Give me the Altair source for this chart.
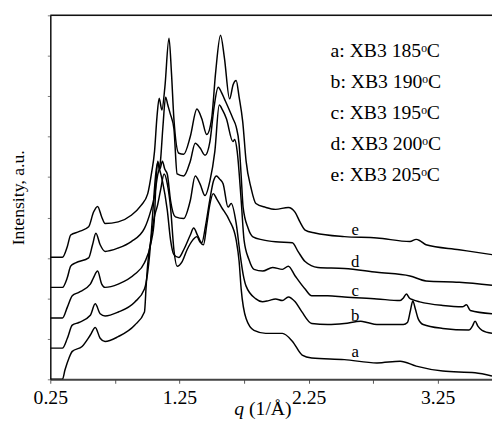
import altair as alt
import pandas as pd

# ---------------- data ----------------
# scattering vector q (1/Å) and stacked intensity (a.u.) for each curve
a_q = [0.25, 0.344, 0.364, 0.395, 0.42, 0.496, 0.56, 0.598, 0.636, 0.674,
       0.776, 0.903, 0.979, 0.993, 1.004, 1.029, 1.055, 1.080, 1.103, 1.131,
       1.156, 1.181, 1.207, 1.232, 1.271, 1.309, 1.354, 1.385, 1.408, 1.436,
       1.461, 1.484, 1.512, 1.537, 1.575, 1.636, 1.689, 1.712, 1.728, 1.766,
       1.827, 1.918, 2.047, 2.124, 2.200, 2.274, 2.527, 2.779, 2.959, 3.083,
       3.289, 3.539, 3.670]
a_v = [0, 0, 0.236, 0.528, 0.691, 0.813, 1.095, 1.282, 1.015, 0.934,
       1.056, 1.338, 1.664, 2.353, 2.839, 3.448, 4.007, 4.299, 4.664, 5.078,
       4.835, 4.251, 3.204, 2.798, 2.912, 3.204, 3.448, 3.528, 3.399, 3.326,
       3.813, 4.299, 4.591, 4.470, 4.258, 3.934, 3.448, 2.912, 2.231, 1.501,
       1.209, 1.136, 1.136, 0.942, 0.601, 0.528, 0.487, 0.406, 0.448, 0.326,
       0.204, 0.163, 0.083]

b_q = [0.25, 0.344, 0.382, 0.42, 0.471, 0.56, 0.598, 0.636, 0.674, 0.776,
       0.903, 0.979, 1.004, 1.019, 1.042, 1.065, 1.080, 1.095, 1.118, 1.156,
       1.181, 1.207, 1.245, 1.283, 1.334, 1.360, 1.392, 1.423, 1.453, 1.484,
       1.514, 1.537, 1.560, 1.588, 1.626, 1.651, 1.689, 1.720, 1.743, 1.766,
       1.842, 1.893, 1.941, 1.994, 2.047, 2.093, 2.146, 2.197, 2.274, 2.398,
       2.527, 2.654, 2.702, 2.779, 2.984, 3.015, 3.038, 3.057, 3.076, 3.098,
       3.137, 3.289, 3.492, 3.517, 3.539, 3.562, 3.593, 3.670]
b_v = [0.771, 0.771, 1.015, 1.338, 1.404, 1.582, 1.866, 1.623, 1.567, 1.664,
       1.908, 2.231, 2.645, 3.083, 4.056, 5.029, 5.346, 5.200, 4.908, 4.178,
       3.448, 3.083, 3.010, 3.204, 3.569, 3.740, 3.545, 3.375, 3.813, 4.421,
       4.908, 5.029, 4.956, 4.835, 4.258, 4.348, 3.861, 3.083, 2.596, 2.304,
       1.988, 1.915, 1.946, 1.988, 1.946, 2.036, 1.915, 1.672, 1.380, 1.355,
       1.380, 1.436, 1.404, 1.355, 1.355, 1.404, 1.696, 1.939, 1.745, 1.501,
       1.355, 1.258, 1.217, 1.307, 1.436, 1.307, 1.209, 1.136]

c_q = [0.25, 0.344, 0.382, 0.42, 0.471, 0.56, 0.585, 0.616, 0.648, 0.674,
       0.776, 0.903, 0.979, 1.029, 1.055, 1.069, 1.082, 1.098, 1.118, 1.136,
       1.156, 1.181, 1.219, 1.283, 1.334, 1.372, 1.410, 1.448, 1.486, 1.524,
       1.558, 1.583, 1.613, 1.664, 1.678, 1.697, 1.728, 1.750, 1.788, 1.827,
       1.895, 1.971, 2.047, 2.093, 2.146, 2.223, 2.274, 2.398, 2.527, 2.779,
       2.959, 2.984, 3.007, 3.030, 3.060, 3.111, 3.289, 3.441, 3.472, 3.502,
       3.670]
c_v = [1.518, 1.518, 1.786, 2.068, 2.151, 2.353, 2.516, 2.676, 2.353, 2.273,
       2.353, 2.596, 2.881, 3.367, 3.934, 4.908, 5.394, 5.200, 5.394, 5.200,
       5.071, 4.421, 4.015, 3.976, 4.421, 5.029, 4.827, 4.543, 4.908, 5.637,
       6.781, 6.660, 6.448, 5.880, 5.929, 5.637, 4.421, 3.448, 2.961, 2.718,
       2.676, 2.766, 2.718, 2.798, 2.555, 2.231, 2.068, 2.068, 2.036, 1.988,
       1.946, 2.012, 2.109, 2.012, 1.964, 1.915, 1.825, 1.793, 1.842, 1.703,
       1.623]

d_q = [0.25, 0.344, 0.382, 0.408, 0.446, 0.547, 0.577, 0.603, 0.636, 0.674,
       0.776, 0.877, 0.979, 1.029, 1.055, 1.080, 1.103, 1.122, 1.143, 1.160,
       1.179, 1.207, 1.232, 1.283, 1.334, 1.372, 1.410, 1.448, 1.486, 1.518,
       1.550, 1.575, 1.598, 1.664, 1.689, 1.712, 1.728, 1.743, 1.781, 1.819,
       1.895, 1.994, 2.124, 2.169, 2.223, 2.322, 2.527, 2.779, 3.035, 3.159,
       3.416, 3.670]
d_v = [2.273, 2.273, 2.516, 2.798, 2.881, 3.002, 3.326, 3.611, 3.326, 3.163,
       3.246, 3.406, 3.732, 4.178, 4.501, 5.029, 5.394, 6.246, 6.976, 6.781,
       6.562, 6.197, 5.078, 5.029, 5.394, 5.839, 5.718, 5.540, 5.880, 6.732,
       7.219, 7.097, 6.934, 6.448, 6.246, 5.808, 5.029, 4.251, 3.740, 3.521,
       3.448, 3.399, 3.375, 3.156, 2.912, 2.766, 2.742, 2.645, 2.555, 2.433,
       2.401, 2.328]

e_q = [0.25, 0.344, 0.382, 0.408, 0.471, 0.547, 0.585, 0.616, 0.648, 0.674,
       0.776, 0.877, 0.953, 1.004, 1.034, 1.057, 1.076, 1.093, 1.114, 1.137,
       1.169, 1.188, 1.207, 1.245, 1.283, 1.334, 1.385, 1.423, 1.461, 1.499,
       1.530, 1.568, 1.598, 1.638, 1.666, 1.689, 1.712, 1.740, 1.766, 1.804,
       1.842, 1.918, 1.994, 2.093, 2.146, 2.184, 2.223, 2.299, 2.527, 2.779,
       3.035, 3.083, 3.114, 3.159, 3.416, 3.670]
e_v = [3.017, 3.017, 3.285, 3.569, 3.650, 3.771, 4.136, 4.275, 4.015, 3.854,
       3.893, 4.056, 4.299, 4.584, 5.102, 5.637, 6.489, 6.951, 6.660, 7.219,
       8.435, 7.584, 6.440, 5.589, 5.565, 6.002, 6.684, 6.440, 6.051, 6.440,
       7.584, 8.508, 7.949, 6.934, 7.292, 7.389, 6.976, 6.367, 5.394, 4.737,
       4.348, 4.251, 4.202, 4.251, 4.129, 3.886, 3.691, 3.618, 3.528, 3.496,
       3.406, 3.460, 3.423, 3.326, 3.204, 3.083]

curve_names = ["a", "b", "c", "d", "e"]
legend_texts = ["a: XB3 185ᵒC", "b: XB3 190ᵒC", "c: XB3 195ᵒC",
                "d: XB3 200ᵒC", "e: XB3 205ᵒC"]
x_tick_values = [0.25, 0.75, 1.25, 1.75, 2.25, 2.75, 3.25]
x_tick_labels = ["0.25", "1.25", "2.25", "3.25"]
y_tick_values = [0, 1, 2, 3, 4, 5, 6, 7, 8, 9]

# ---------------- tables ----------------
series = {"a": (a_q, a_v), "b": (b_q, b_v), "c": (c_q, c_v),
          "d": (d_q, d_v), "e": (e_q, e_v)}
rows = []
for name, (qs, vs) in series.items():
    assert len(qs) == len(vs), name
    for q, v in zip(qs, vs):
        rows.append({"curve": name, "q": q, "I": v})
df = pd.DataFrame(rows)

# curve letter labels (placed above each tail)
label_q = 2.61
label_I = [0.674, 1.574, 2.182, 2.888, 3.691]
df_lab = pd.DataFrame({"q": [label_q] * 5, "I": label_I, "t": curve_names})

# legend block
leg_q = 2.42
leg_I = [8.12 - 0.765 * i for i in range(5)]
df_leg = pd.DataFrame({"q": [leg_q] * 5, "I": leg_I, "t": legend_texts})

FONT = "Liberation Serif"
W, H = 449, 370

xscale = alt.Scale(domain=[0.25, 3.67], nice=False, zero=False)
yscale = alt.Scale(domain=[0, 9], nice=False, zero=False)

label_expr = ("indexof(" + str(x_tick_labels).replace("'", '"') +
              ", format(datum.value, '.2f')) >= 0 ? format(datum.value, '.2f') : ''")

xaxis = alt.Axis(values=x_tick_values, labelExpr=label_expr, title=None,
                 grid=False, tickSize=4, tickColor="#555", domainColor="#444",
                 domainWidth=2, labelFont=FONT, labelFontSize=20,
                 labelColor="black", labelPadding=5, labelFlush=False)
yaxis = alt.Axis(values=y_tick_values, labels=False, title="Intensity, a.u.",
                 grid=False, tickSize=3, tickColor="#777", domainColor="#111",
                 domainWidth=1.5, titleFont=FONT, titleFontSize=18,
                 titleFontWeight="normal", titleColor="black", titlePadding=20)

lines = alt.Chart(df).mark_line(
    color="black", strokeWidth=1.5, interpolate="monotone", clip=True
).encode(
    x=alt.X("q:Q", scale=xscale, axis=xaxis),
    y=alt.Y("I:Q", scale=yscale, axis=yaxis),
    detail="curve:N",
)

top_rule = alt.Chart(pd.DataFrame({"I": [9]})).mark_rule(
    color="#111", strokeWidth=1.5
).encode(y=alt.Y("I:Q", scale=yscale))

curve_labels = alt.Chart(df_lab).mark_text(
    font=FONT, fontSize=17, color="black", align="center", baseline="middle"
).encode(x=alt.X("q:Q", scale=xscale), y=alt.Y("I:Q", scale=yscale), text="t:N")

legend = alt.Chart(df_leg).mark_text(
    font=FONT, fontSize=20, color="black", align="left", baseline="middle"
).encode(x=alt.X("q:Q", scale=xscale), y=alt.Y("I:Q", scale=yscale), text="t:N")

xt_q = alt.Chart(pd.DataFrame({"t": ["q"]})).mark_text(
    font=FONT, fontSize=20, fontStyle="italic", color="black",
    align="center", baseline="alphabetic"
).encode(x=alt.value(192), y=alt.value(406), text="t:N")

xt_rest = alt.Chart(pd.DataFrame({"t": ["(1/Å)"]})).mark_text(
    font=FONT, fontSize=20, color="black", align="left", baseline="alphabetic"
).encode(x=alt.value(202), y=alt.value(406), text="t:N")

chart = alt.layer(lines, top_rule, curve_labels, legend, xt_q, xt_rest).properties(
    width=W, height=H,
    autosize=alt.AutoSizeParams(type="none"),
    padding={"left": 43, "top": 4, "right": 0, "bottom": 43},
).configure_view(stroke=None).configure(background="white")

chart.save("out.html", embed_options={"renderer": "svg", "actions": False})
